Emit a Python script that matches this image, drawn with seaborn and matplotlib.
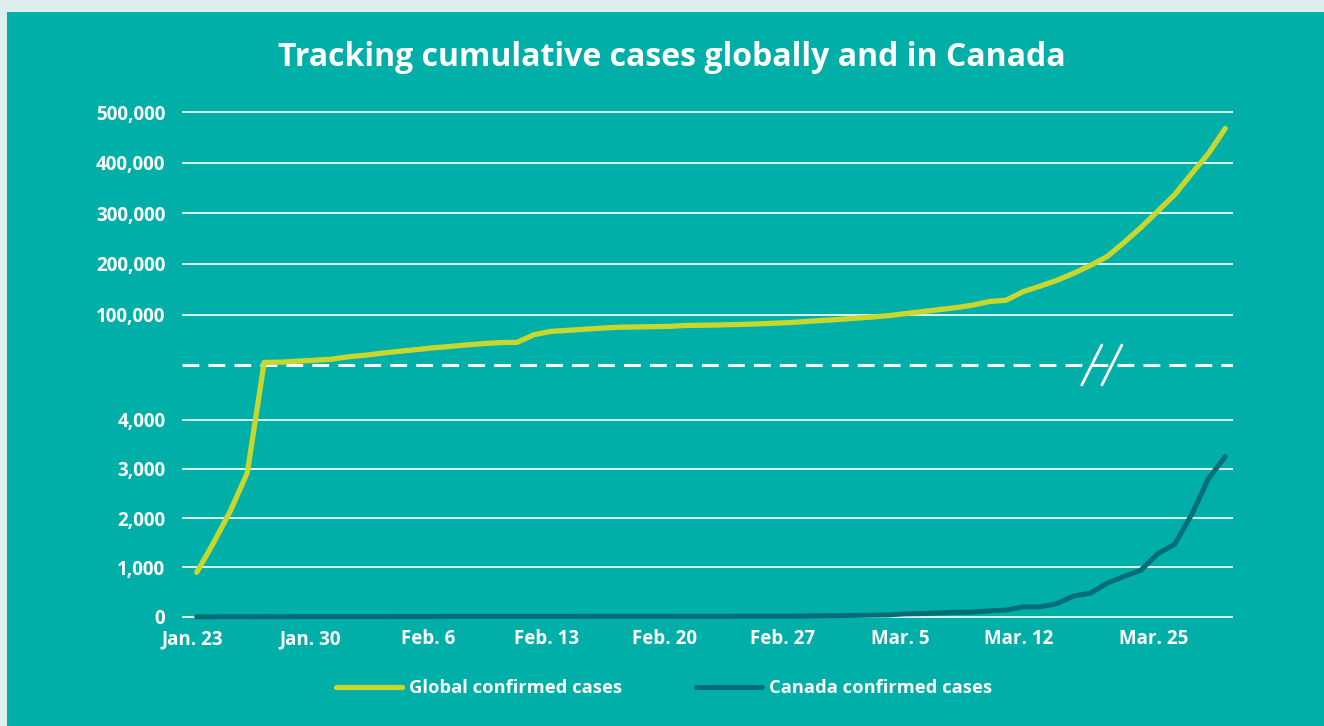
import numpy as np
import pandas as pd
import matplotlib.pyplot as plt
import matplotlib.transforms as mtransforms
import seaborn as sns
from matplotlib.patches import Rectangle

# day index 0 = first plotted day
days = np.arange(62)
tick_days = [0, 7, 14, 21, 28, 35, 42, 49, 57]
tick_labels = ["Jan. 23", "Jan. 30", "Feb. 6", "Feb. 13", "Feb. 20",
               "Feb. 27", "Mar. 5", "Mar. 12", "Mar. 25"]

global_cases = [
    900, 1500, 2150, 2920, 5600, 6200, 8200, 9900, 12000, 16800,
    19900, 23900, 27600, 30800, 34400, 37100, 40200, 42800, 44800, 45200,
    60400, 66900, 69000, 71200, 73300, 75100, 75600, 76200, 76800, 78600,
    79000, 79600, 80400, 81400, 82700, 84100, 86000, 88400, 90300, 92800,
    95100, 97900, 101800, 105800, 109800, 113600, 118600, 125900, 128400, 145200,
    156100, 167500, 181600, 197100, 214800, 242600, 272200, 304500, 337000, 378200,
    418000, 467600,
]
canada_cases = [
    0, 0, 1, 1, 2, 2, 3, 4, 4, 4,
    4, 4, 5, 5, 5, 7, 7, 7, 7, 7,
    7, 7, 7, 8, 8, 8, 8, 8, 8, 9,
    9, 9, 10, 11, 11, 12, 14, 20, 24, 27,
    33, 37, 60, 65, 78, 90, 95, 120, 135, 200,
    200, 265, 420, 480, 680, 820, 945, 1280, 1470, 2070,
    2800, 3250,
]
y_ticks = [0, 1000, 2000, 3000, 4000, 100000, 200000, 300000, 400000, 500000]

TEAL = "#00AFA8"
LIME = "#C8D72D"
DARK = "#006E78"
BORDER = "#DDEEEE"

# broken y axis: 0-5,100 linear below the dashed line, 0-500k above it
BREAK = 5100
K = 0.01027


def fwd(v):
    v = np.asarray(v, dtype=float)
    return np.where(v <= BREAK, v, BREAK + np.maximum(v, 0) * K)


def inv(u):
    u = np.asarray(u, dtype=float)
    return np.where(u <= BREAK, u,
                    np.where(u < BREAK + BREAK * K, BREAK, (u - BREAK) / K))


df = pd.DataFrame({
    "day": days,
    "Global confirmed cases": global_cases,
    "Canada confirmed cases": canada_cases,
})

sns.set_style("white")
plt.rcParams["font.family"] = ["Open Sans", "DejaVu Sans"]

fig = plt.figure(figsize=(13.24, 7.26), dpi=100, facecolor=BORDER)
fig.add_artist(Rectangle((7 / 1324, 0), 1, 714 / 726, transform=fig.transFigure,
                         facecolor=TEAL, edgecolor="none", zorder=0))

ax = fig.add_axes([0.1375, 0.1464, 0.7938, 0.709])
ax.set_facecolor("none")

sns.lineplot(data=df, x="day", y="Global confirmed cases", ax=ax, color=LIME,
             linewidth=3.8, solid_capstyle="round", label="Global confirmed cases")
sns.lineplot(data=df, x="day", y="Canada confirmed cases", ax=ax, color=DARK,
             linewidth=3.6, solid_capstyle="round", label="Canada confirmed cases")

ax.set_yscale("function", functions=(fwd, inv))
ax.set_ylim(-60, 514000)
ax.set_xlim(-0.87, 61.46)
ax.set_yticks(y_ticks)
ax.set_yticklabels([f"{t:,}" for t in y_ticks])
ax.set_xticks(tick_days, tick_labels)
ax.grid(axis="y", color="white", linewidth=1.2)
ax.grid(axis="x", visible=False)
ax.set_axisbelow(True)
ax.tick_params(axis="both", length=0, colors="white", labelsize=13.5)
ax.tick_params(axis="y", pad=12)
ax.tick_params(axis="x", pad=7)
shift = mtransforms.ScaledTranslation(-4.5 / 100, 0, fig.dpi_scale_trans)
for lab in ax.get_xticklabels():
    lab.set_fontweight("bold")
    lab.set_transform(lab.get_transform() + shift)
for lab in ax.get_yticklabels():
    lab.set_fontweight("bold")
ax.set_xlabel("")
ax.set_ylabel("")
for s in ax.spines.values():
    s.set_visible(False)

# dashed break line with // marks
ax.axhline(BREAK, color="white", linewidth=2.2, dashes=(5.5, 3), zorder=1)
for x0 in (0.8561, 0.8752):
    ax.plot([x0, x0 + 0.019], [0.456, 0.5337], transform=ax.transAxes,
            color="white", linewidth=2, clip_on=False, solid_capstyle="round")

handles, labels = ax.get_legend_handles_labels()
ax.get_legend().remove()
fig.legend(handles, labels, loc="center", bbox_to_anchor=(0.5015, 1 - 688 / 726), ncol=2,
           frameon=False, handlelength=3.6, handletextpad=0.4, columnspacing=4.0,
           prop={"weight": "bold", "size": 13.2}, labelcolor="white")

fig.text(0.5076, 1 - 58 / 726, "Tracking cumulative cases globally and in Canada",
         ha="center", va="center", fontsize=23, fontweight="bold", color="white")

fig.savefig("out.png", dpi=100, facecolor=fig.get_facecolor())
